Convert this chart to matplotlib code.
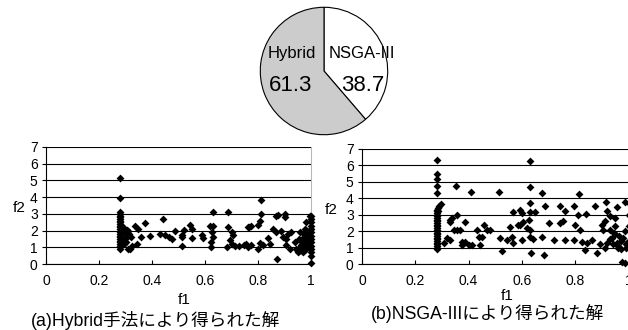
import numpy as np
import matplotlib
matplotlib.use('Agg')
import matplotlib.pyplot as plt
from matplotlib.patches import Circle

plt.rcParams['font.family'] = ['Liberation Sans', 'Noto Sans CJK JP']

# pie: share of solutions
pie_labels = ['NSGA-III', 'Hybrid']
pie_values = [38.7, 61.3]
pie_colors = ['white', '#cccccc']

# (a) Hybrid
col_a = [5.15, 3.95, 3.1, 3.0, 2.9, 2.8, 2.7, 2.6, 2.5, 2.4, 2.3, 2.2, 2.1, 2.0, 1.9,
         1.8, 1.7, 1.6, 1.5, 1.4, 1.3, 1.2, 1.1, 1.0, 0.9]
f1_a = [0.28] * len(col_a) + [
    0.29, 0.295, 0.30, 0.29, 0.31, 0.315, 0.30, 0.31, 0.32, 0.325, 0.305, 0.295,
    0.336, 0.374, 0.443, 0.349, 0.357, 0.394, 0.429, 0.448, 0.465, 0.474, 0.487,
    0.512, 0.512, 0.317, 0.342, 0.306,
    0.629, 0.686, 0.543, 0.550, 0.519, 0.512, 0.550, 0.588, 0.594, 0.617, 0.632,
    0.626, 0.632, 0.621, 0.621, 0.688, 0.700, 0.706, 0.694, 0.682, 0.703, 0.715,
    0.730, 0.749, 0.762, 0.762,
    0.811, 0.811, 0.807, 0.800, 0.775, 0.765, 0.756, 0.775, 0.807, 0.800, 0.819,
    0.838, 0.844, 0.857, 0.869, 0.875, 0.901, 0.903, 0.869, 0.888, 0.894, 0.906,
    0.913, 0.925, 0.906, 0.919, 0.938, 0.944, 0.950, 0.872, 0.963, 0.969, 0.975,
    0.977, 0.981, 0.995,
    0.955, 0.96, 0.965, 0.97, 0.975, 0.98, 0.985, 0.99, 0.96, 0.97, 0.98, 0.99,
    0.955, 0.965, 0.985,
    1.0, 1.0, 1.0, 1.0, 1.0, 1.0, 1.0, 1.0, 1.0, 1.0, 1.0, 1.0, 1.0, 1.0]
f2_a = col_a + [
    2.2, 1.9, 1.7, 1.5, 1.95, 1.8, 1.3, 0.9, 1.6, 1.1, 2.05, 1.2,
    2.27, 2.44, 2.67, 2.07, 1.63, 1.67, 1.79, 1.73, 1.59, 1.47, 1.99,
    1.73, 1.07, 0.87, 1.19, 1.63,
    3.13, 3.13, 2.33, 2.07, 2.03, 1.63, 1.53, 1.73, 1.53, 2.27, 2.27,
    1.93, 1.63, 1.33, 1.03, 2.19, 1.93, 1.73, 1.43, 1.03, 1.19, 1.07,
    1.07, 1.13, 2.19, 0.99,
    3.83, 2.99, 2.55, 2.35, 2.27, 2.21, 1.21, 1.11, 1.27, 0.87, 1.11,
    1.55, 1.21, 2.11, 2.87, 2.95, 3.01, 2.81, 1.91, 1.95, 1.61, 1.51,
    1.81, 1.91, 1.11, 0.91, 1.31, 0.91, 0.71, 0.3, 1.11, 1.51, 1.81,
    2.11, 2.51, 2.9,
    0.8, 1.0, 1.3, 0.7, 1.6, 1.2, 2.0, 1.4, 1.9, 1.0, 0.9, 1.7,
    1.5, 0.75, 1.1,
    0.05, 0.5, 0.7, 0.9, 1.1, 1.3, 1.5, 1.7, 1.9, 2.1, 2.3, 2.5, 2.7, 2.9]

# (b) NSGA-III
col_b = [6.35, 5.5, 5.2, 4.75, 4.35, 3.3, 3.2, 3.1, 3.0, 2.9, 2.8, 2.7, 2.6, 2.5,
         2.4, 2.3, 2.2, 2.1, 2.0, 1.9, 1.8, 1.7, 1.6, 1.5, 1.4, 1.3, 1.2, 1.1, 1.0, 0.9]
f1_b = [0.28] * len(col_b) + [
    0.285, 0.29, 0.295, 0.285,
    0.352, 0.41, 0.515, 0.631, 0.629, 0.675, 0.629, 0.631, 0.594, 0.60, 0.65,
    0.6875, 0.744, 0.76, 0.794, 0.816, 0.81, 0.875, 0.84, 0.916, 0.956, 0.988,
    0.566, 0.329, 0.332, 0.338, 0.356, 0.344, 0.356, 0.369, 0.3875, 0.319,
    0.306, 0.331, 0.375, 0.375, 0.3875, 0.40, 0.4125, 0.431, 0.4375, 0.456,
    0.45, 0.444, 0.469, 0.481, 0.519, 0.525, 0.544, 0.556, 0.5625, 0.566,
    0.587, 0.594, 0.60, 0.606, 0.619, 0.625, 0.629, 0.631, 0.634, 0.64, 0.675,
    0.684, 0.70, 0.72, 0.744, 0.755, 0.7625, 0.794, 0.80, 0.819, 0.825, 0.8375,
    0.844, 0.862, 0.881, 0.894, 0.906, 0.913, 0.919, 0.931, 0.938, 0.95, 0.962,
    0.975, 0.9875,
    0.92, 0.93, 0.94, 0.95, 0.96, 0.97, 0.98, 0.99, 1.0, 0.93, 0.95, 0.97, 0.99,
    0.945, 0.965, 0.985, 1.0, 1.0, 1.0, 0.995, 0.91, 0.9, 0.955]
f2_b = col_b + [
    3.4, 3.55, 3.65, 3.25,
    4.77, 4.36, 4.36, 6.29, 4.71, 4.30, 3.69, 3.18, 3.29, 3.1, 3.18,
    3.53, 3.53, 3.2, 3.53, 4.24, 3.0, 3.53, 3.05, 3.79, 3.49, 3.79,
    3.18, 2.58, 2.68, 2.78, 2.98, 2.07, 2.07, 2.07, 2.58, 1.56,
    1.26, 1.46, 1.36, 1.16, 1.36, 1.16, 1.16, 2.07, 1.66, 2.37,
    1.66, 1.16, 2.07, 2.07, 1.56, 0.81, 1.46, 2.27, 1.66, 1.26,
    2.37, 2.37, 1.46, 2.58, 2.17, 2.68, 2.07, 1.66, 0.65, 1.5, 1.66,
    0.55, 2.47, 1.46, 2.47, 2.6, 1.46, 1.46, 2.37, 2.07, 1.36, 0.85,
    1.3, 1.45, 0.65, 1.2, 2.07, 2.6, 3.2, 2.9, 1.6, 2.8, 1.0,
    0.14, 0.08,
    1.3, 1.5, 1.2, 1.8, 1.1, 1.4, 1.6, 1.2, 1.4, 2.1, 2.3, 0.9, 1.0,
    1.9, 1.7, 2.0, 2.3, 3.0, 3.7, 1.3, 1.0, 2.4, 1.3]

W, H = 628, 330
fig = plt.figure(figsize=(W / 100, H / 100), dpi=100)


def fx(px):
    return px / W


def fy(py):
    return 1 - py / H


def scatter_panel(rect, xs, ys, right_color=None):
    ax = fig.add_axes(rect)
    ax.scatter(xs, ys, marker='D', s=16, color='black', linewidths=0, zorder=3,
               clip_on=False)
    ax.set_xlim(0, 1)
    ax.set_ylim(0, 7)
    ax.set_xticks([0, 0.2, 0.4, 0.6, 0.8, 1])
    ax.set_xticklabels(['0', '0.2', '0.4', '0.6', '0.8', '1'])
    ax.set_yticks(range(8))
    ax.yaxis.grid(True, color='black', linewidth=0.8)
    ax.set_axisbelow(True)
    ax.tick_params(axis='x', direction='in', length=3, labelsize=10, pad=7)
    ax.tick_params(axis='y', direction='out', length=3, labelsize=10, pad=3)
    ax.spines['top'].set_visible(False)
    if right_color:
        ax.spines['right'].set_color(right_color)
    else:
        ax.spines['right'].set_visible(False)
    ax.spines['left'].set_linewidth(0.8)
    ax.spines['bottom'].set_linewidth(0.8)
    return ax


scatter_panel([fx(46), fy(264), fx(311) - fx(46), fy(147) - fy(264)],
              f1_a, f2_a, right_color='#a8bccf')
scatter_panel([fx(362), fy(264), fx(628.5) - fx(362), fy(149) - fy(264)],
              f1_b, f2_b)

fig.text(fx(19), fy(208), 'f2', fontsize=11, ha='center', va='center')
fig.text(fx(331), fy(210), 'f2', fontsize=11, ha='center', va='center')
fig.text(fx(184), fy(300), 'f1', fontsize=11, ha='center', va='center')
fig.text(fx(507), fy(296), 'f1', fontsize=11, ha='center', va='center')
fig.text(fx(156), fy(321), '(a)Hybrid手法により得られた解', fontsize=12.7,
         ha='center', va='center')
fig.text(fx(487), fy(313.5), '(b)NSGA-IIIにより得られた解', fontsize=12.7,
         ha='center', va='center')

# pie
pax = fig.add_axes([fx(259), fy(136), fx(389) - fx(259), fy(6) - fy(136)])
wedges, _ = pax.pie(pie_values, colors=pie_colors, startangle=90, counterclock=False,
                    wedgeprops=dict(edgecolor='black', linewidth=0.8))
pax.set_xlim(-1.02, 1.02)
pax.set_ylim(-1.02, 1.02)
pax.set_aspect('equal')
pax.axis('off')
clip = Circle((0, 0), 0.97, transform=pax.transData)

texts = [
    pax.text(-0.50, 0.27, pie_labels[1], fontsize=12, ha='center', va='center'),
    pax.text(-0.52, -0.22, f'{pie_values[1]}', fontsize=16, ha='center', va='center'),
    pax.text(0.075, 0.27, pie_labels[0], fontsize=12, ha='left', va='center'),
    pax.text(0.60, -0.22, f'{pie_values[0]}', fontsize=16, ha='center', va='center'),
]
for t in texts:
    t.set_clip_path(clip)

fig.savefig('out.png', dpi=100)
